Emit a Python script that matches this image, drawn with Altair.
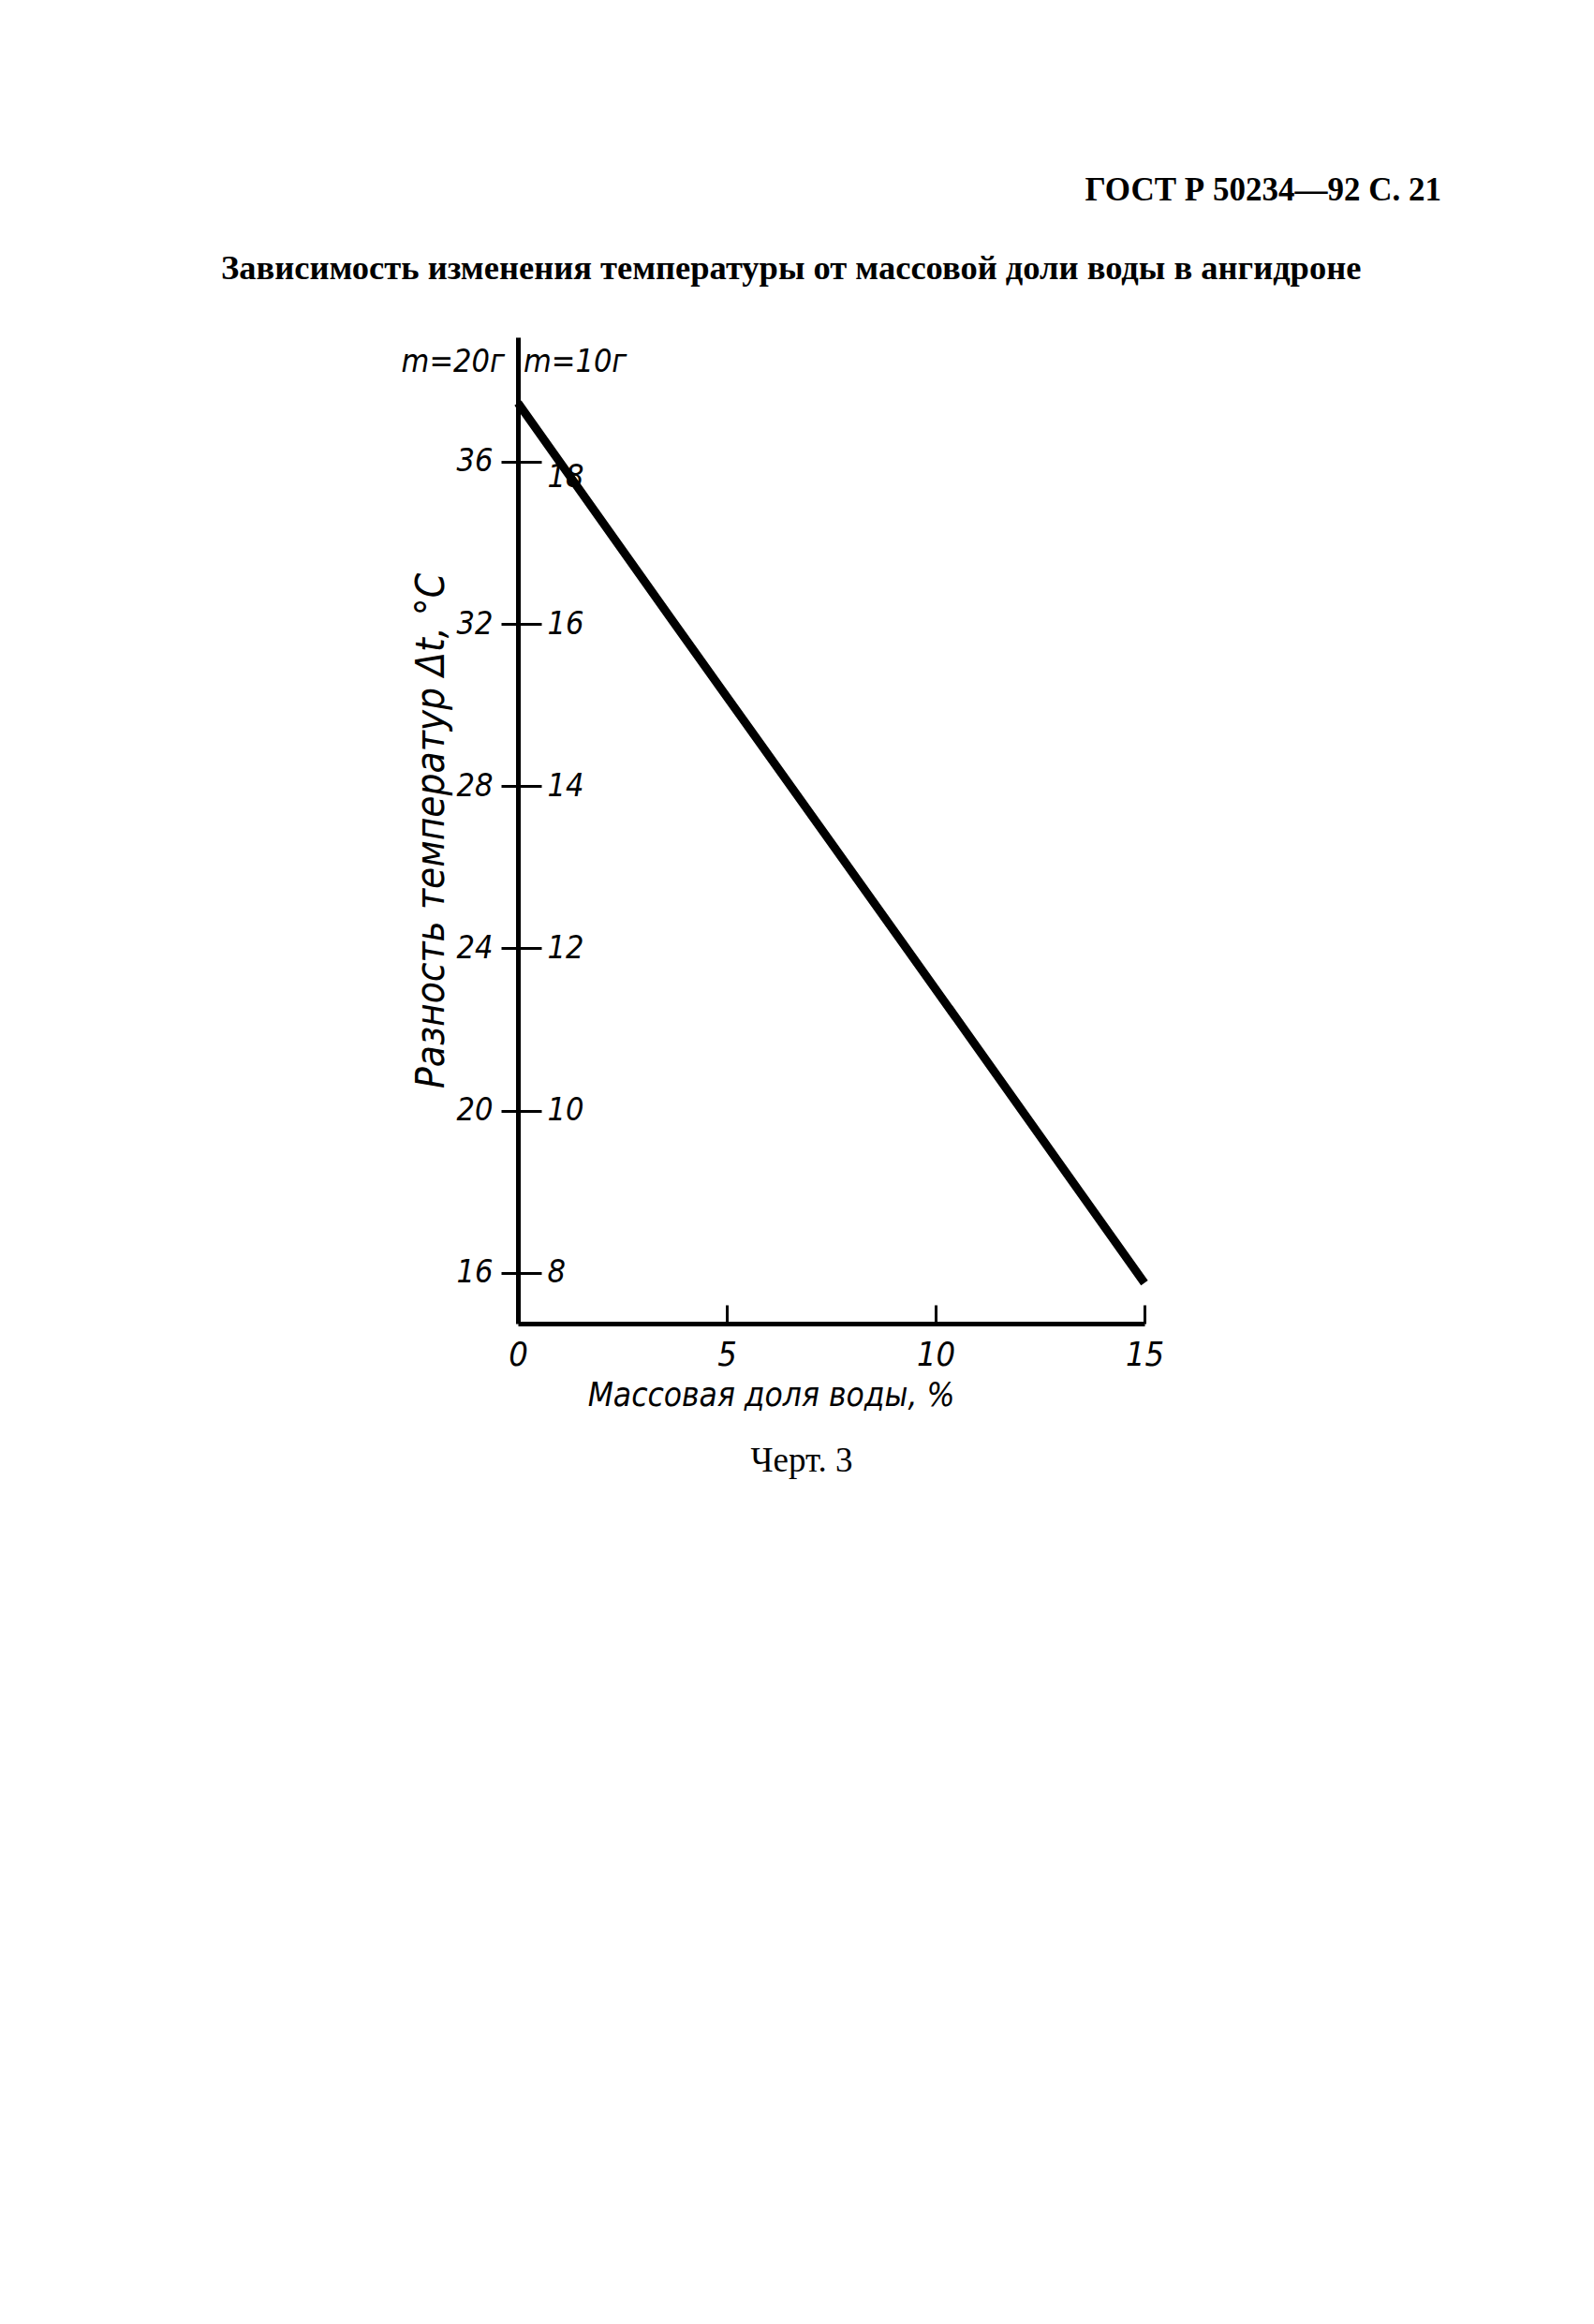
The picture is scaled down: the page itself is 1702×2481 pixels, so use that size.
import altair as alt
import pandas as pd

# ---- data ----
water = [0, 3.72, 7.49, 11.0, 15.0]             # массовая доля воды, %
dt_20g = [37.45, 32.05, 26.62, 21.55, 15.75]    # разность температур (m=20 г), °C
y_ticks = [16, 20, 24, 28, 32, 36]
x_ticks = [0, 5, 10, 15]
x_inner_ticks = [5, 10, 15]

header_text = ["ГОСТ Р 50234—92 С. 21"]
title_text = ["Зависимость изменения температуры от массовой доли воды в ангидроне"]
mass_left = ["m=20г"]
mass_right = ["m=10г"]
caption_text = ["Черт. 3"]
x_title = "Массовая доля воды, %"
y_title = "Разность температур Δt, °С"

W, H = 669, 1053
XDOM = [0, 15]
YDOM = [14.75, 39.07]

hand = "Liberation Sans Narrow, DejaVu Sans Condensed, DejaVu Sans"
serif = "Liberation Serif, DejaVu Serif"

df = pd.DataFrame({"water": water, "dt": dt_20g})

xs = alt.Scale(domain=XDOM, nice=False, zero=False)
ys = alt.Scale(domain=YDOM, nice=False, zero=False)

line = alt.Chart(df).mark_line(color="black", strokeWidth=9, clip=False).encode(
    x=alt.X("water:Q", scale=xs, axis=alt.Axis(
        values=x_ticks, title=x_title, ticks=False, domain=True,
        domainColor="black", domainWidth=5, grid=False, labelFlush=False,
        labelFont=hand, labelFontStyle="italic", labelFontSize=36,
        labelColor="black", labelPadding=16,
        titleFont=hand, titleFontStyle="italic", titleFontSize=35,
        titleFontWeight="normal", titleColor="black",
        titleX=270, titleY=76, titleBaseline="middle", titleAlign="center")),
    y=alt.Y("dt:Q", scale=ys, axis=alt.Axis(
        values=y_ticks, title=y_title, domain=True, domainColor="black",
        domainWidth=5, grid=False, ticks=True, tickSize=18, tickWidth=3,
        tickColor="black", labelFont=hand, labelFontStyle="italic",
        labelFontSize=34, labelColor="black", labelPadding=9,
        titleFont=hand, titleFontStyle="italic", titleFontSize=42,
        titleFontWeight="normal", titleColor="black", titleAngle=270,
        titleX=-93, titleY=H / 2, titleAlign="center", titleBaseline="middle")),
)

ghost = alt.Chart(df).mark_point(opacity=0).encode(
    x=alt.X("water:Q", scale=xs, axis=alt.Axis(
        orient="top", offset=-H, values=x_inner_ticks, labels=False,
        domain=False, ticks=True, tickSize=20, tickWidth=3,
        tickColor="black", title=None, grid=False)),
    y=alt.Y("dt:Q", scale=ys, axis=alt.Axis(
        orient="right", offset=-W, values=y_ticks,
        labelExpr="datum.value / 2", domain=False, ticks=True,
        tickSize=25, tickWidth=3, tickColor="black", grid=False,
        labelFont=hand, labelFontStyle="italic", labelFontSize=34,
        labelColor="black", labelPadding=6,
        labelBaseline={"condition": {"test": "datum.value == 36", "value": "top"},
                       "value": "middle"},
        title=None)),
)


def note(texts, x, y, font, size, align="left", weight="normal", style="normal"):
    return alt.Chart(pd.DataFrame({"t": texts})).mark_text(
        font=font, fontSize=size, align=align, baseline="middle",
        fontWeight=weight, fontStyle=style, color="black",
    ).encode(x=alt.value(x), y=alt.value(y), text="t:N")


header = note(header_text, 986, -157, serif, 35, align="right", weight="bold")
title = note(title_text, -317, -73, serif, 36.5, align="left", weight="bold")
m20 = note(mass_left, -14, 27, hand, 34, align="right", style="italic")
m10 = note(mass_right, 6, 27, hand, 34, align="left", style="italic")
caption = note(caption_text, 303, 1200, serif, 37, align="center")

chart = alt.layer(line, ghost, header, title, m20, m10, caption).resolve_scale(
    x="independent", y="independent"
).properties(
    width=W, height=H,
    padding={"left": 545, "top": 352, "right": 420, "bottom": 260},
    autosize=alt.AutoSizeParams(type="none"),
    background="white",
).configure_view(stroke=None)

chart.save("out.html", embed_options={"renderer": "svg", "actions": False})
